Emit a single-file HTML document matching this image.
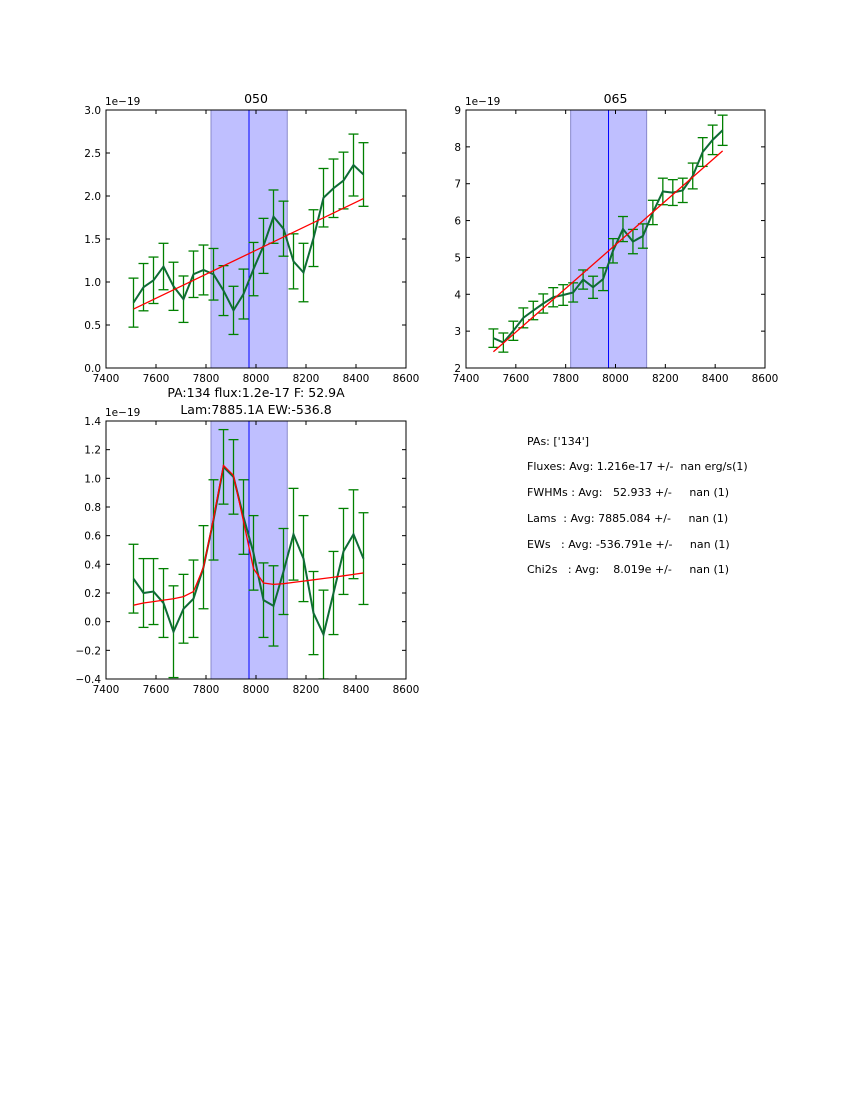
<!DOCTYPE html>
<html><head><meta charset="utf-8"><style>
body{margin:0;background:#fff;}
svg{display:block;font-family:"DejaVu Sans","Liberation Sans",sans-serif;}
.pre{white-space:pre;}
</style></head><body>
<svg id="chart" width="850" height="1100" viewBox="0 0 850 1100">
<rect width="850" height="1100" fill="#fff"/>
<g font-size="11" fill="#000" class="pre" xml:space="preserve">
<text x="527" y="445" class="pre">PAs: ['134']</text>
<text x="527" y="470" class="pre">Fluxes: Avg: 1.216e-17 +/-  nan erg/s(1)</text>
<text x="527" y="496" class="pre">FWHMs : Avg:   52.933 +/-     nan (1)</text>
<text x="527" y="522" class="pre">Lams  : Avg: 7885.084 +/-     nan (1)</text>
<text x="527" y="548" class="pre">EWs   : Avg: -536.791e +/-     nan (1)</text>
<text x="527" y="573" class="pre">Chi2s   : Avg:    8.019e +/-     nan (1)</text>
</g>
</svg>
<script>
const xs = [7510,7550,7590,7630,7670,7710,7750,7790,7830,7870,7910,7950,7990,8030,8070,8110,8150,8190,8230,8270,8310,8350,8390,8430];
const xTicks = [7400,7600,7800,8000,8200,8400,8600];
const band = [7820,8125];
const lineX = 7972;

const y1 = [0.76,0.94,1.02,1.18,0.95,0.80,1.09,1.14,1.09,0.90,0.67,0.86,1.15,1.42,1.76,1.62,1.24,1.11,1.51,1.98,2.09,2.18,2.36,2.25];
const e1 = [0.285,0.275,0.27,0.27,0.28,0.27,0.27,0.29,0.30,0.29,0.28,0.29,0.31,0.32,0.31,0.32,0.32,0.34,0.33,0.34,0.34,0.33,0.36,0.37];
const fit1 = [0.685,1.97];
const yTicks1 = [0.0,0.5,1.0,1.5,2.0,2.5,3.0];

const y2 = [2.81,2.69,3.01,3.36,3.56,3.75,3.92,3.98,4.05,4.40,4.19,4.41,5.18,5.77,5.43,5.58,6.22,6.79,6.76,6.82,7.21,7.86,8.19,8.45];
const e2 = [0.25,0.26,0.26,0.27,0.25,0.26,0.26,0.28,0.26,0.26,0.30,0.31,0.33,0.34,0.33,0.33,0.33,0.36,0.35,0.33,0.35,0.39,0.40,0.41];
const fit2 = [2.44,7.89];
const yTicks2 = [2,3,4,5,6,7,8,9];

const y3 = [0.30,0.20,0.21,0.13,-0.07,0.09,0.16,0.38,0.71,1.08,1.01,0.73,0.48,0.15,0.11,0.35,0.61,0.44,0.06,-0.09,0.20,0.49,0.61,0.44];
const e3 = [0.24,0.24,0.23,0.24,0.32,0.24,0.27,0.29,0.28,0.26,0.26,0.26,0.26,0.26,0.28,0.30,0.32,0.30,0.29,0.31,0.29,0.30,0.31,0.32];
const fit3 = [0.115,0.13,0.14,0.15,0.16,0.175,0.21,0.38,0.72,1.09,1.02,0.70,0.37,0.27,0.26,0.265,0.274,0.283,0.292,0.301,0.31,0.32,0.33,0.34];
const yTicks3 = [-0.4,-0.2,0.0,0.2,0.4,0.6,0.8,1.0,1.2,1.4];

const NS = "http://www.w3.org/2000/svg";
const svg = document.getElementById('chart');
function mk(tag, attrs, parent){
  const e = document.createElementNS(NS, tag);
  for (const k in attrs) e.setAttribute(k, attrs[k]);
  (parent||svg).appendChild(e);
  return e;
}
function fmtY(v, dec){
  const s = v.toFixed(dec);
  return s.startsWith('-') ? '\u2212' + s.slice(1) : s;
}

function panel(name, L, T, W, H, ymin, ymax, ys, es, fitY, fitFull, yTicks, dec, titles){
  const g = mk('g', {});
  
  
  const sx = v => L + (v - xTicks[0]) / (xTicks[xTicks.length-1] - xTicks[0]) * W;
  const sy = v => T + H - (v - ymin) / (ymax - ymin) * H;
  const clipId = name + '-clip';
  const cp = mk('clipPath', {id: clipId}, g);
  mk('rect', {x: L, y: T, width: W, height: H}, cp);
  const inner = mk('g', {'clip-path': 'url(#' + clipId + ')'}, g);

  const b = mk('rect', {x: sx(band[0]), y: T, width: sx(band[1]) - sx(band[0]), height: H, fill: '#bfbfff', stroke: '#8888cc', 'stroke-width': 1}, inner);
  
  
  const vl = mk('line', {x1: sx(lineX), x2: sx(lineX), y1: T, y2: T + H, stroke: '#0000ff', 'stroke-width': 1}, inner);
  
  

  for (let i = 0; i < xs.length; i++){
    const x = sx(xs[i]), yt = sy(ys[i] + es[i]), yb = sy(ys[i] - es[i]);
    const eb = mk('g', {stroke: '#008000', 'stroke-width': 1.3}, inner);
    
    
    mk('line', {x1: x, x2: x, y1: yt, y2: yb}, eb);
    mk('line', {x1: x - 5, x2: x + 5, y1: yt, y2: yt}, eb);
    mk('line', {x1: x - 5, x2: x + 5, y1: yb, y2: yb}, eb);
  }
  const pts = xs.map((x, i) => sx(x) + ',' + sy(ys[i])).join(' ');
  const dl = mk('polyline', {points: pts, fill: 'none', stroke: '#0f6b35', 'stroke-width': 2}, inner);
  
  
  let fpts;
  if (fitFull) fpts = xs.map((x, i) => sx(x) + ',' + sy(fitY[i])).join(' ');
  else fpts = sx(xs[0]) + ',' + sy(fitY[0]) + ' ' + sx(xs[xs.length-1]) + ',' + sy(fitY[1]);
  const fl = mk('polyline', {points: fpts, fill: 'none', stroke: '#ff0000', 'stroke-width': 1.3}, inner);
  
  

  const fr = mk('rect', {x: L, y: T, width: W, height: H, fill: 'none', stroke: '#000', 'stroke-width': 1}, g);
  
  

  xTicks.forEach(t => {
    const x = sx(t);
    mk('line', {x1: x, x2: x, y1: T + H, y2: T + H - 4, stroke: '#000'}, g);
    mk('line', {x1: x, x2: x, y1: T, y2: T + 4, stroke: '#000'}, g);
    const tx = mk('text', {x: x, y: T + H + 14, 'font-size': 10.5, 'text-anchor': 'middle'}, g);
    tx.textContent = t;
    
    
  });
  yTicks.forEach(t => {
    const y = sy(t);
    mk('line', {x1: L, x2: L + 4, y1: y, y2: y, stroke: '#000'}, g);
    mk('line', {x1: L + W, x2: L + W - 4, y1: y, y2: y, stroke: '#000'}, g);
    const tx = mk('text', {x: L - 5, y: y + 4, 'font-size': 10.5, 'text-anchor': 'end'}, g);
    tx.textContent = fmtY(t, dec);
    
    
  });
  const off = mk('text', {x: L - 1, y: T - 5, 'font-size': 10.5}, g);
  off.textContent = '1e\u221219';
  
  
  titles.forEach((s, i) => {
    const tt = mk('text', {x: L + W / 2, y: T - 7 - (titles.length - 1 - i) * 17, 'font-size': 12.5, 'text-anchor': 'middle'}, g);
    tt.textContent = s;
    
    
  });
}

panel('panel-050', 106, 110, 300, 258, 0, 3.0, y1, e1, fit1, false, yTicks1, 1, ['050']);
panel('panel-065', 466, 110, 299, 258, 2, 9, y2, e2, fit2, false, yTicks2, 0, ['065']);
panel('panel-combined', 106, 421, 300, 258, -0.4, 1.4, y3, e3, fit3, true, yTicks3, 1, ['PA:134 flux:1.2e-17 F: 52.9A', 'Lam:7885.1A EW:-536.8']);
</script>
</body></html>
